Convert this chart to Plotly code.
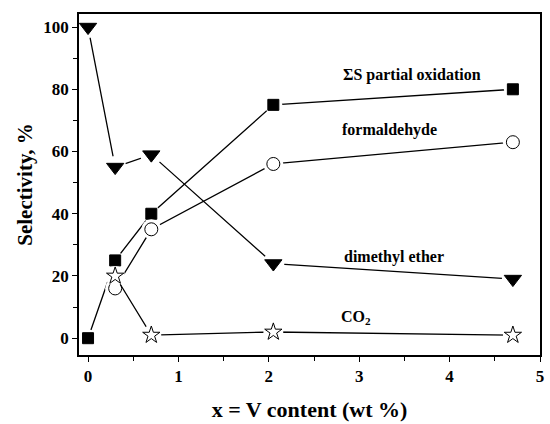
import plotly.graph_objects as go

x_dme = [0.0, 0.3, 0.7, 2.05, 4.7]
y_dme = [100, 55, 59, 24, 19]
x_sum = [0.0, 0.3, 0.7, 2.05, 4.7]
y_sum = [0, 25, 40, 75, 80]
x_form = [0.3, 0.7, 2.05, 4.7]
y_form = [16, 35, 56, 63]
x_co2 = [0.3, 0.7, 2.05, 4.7]
y_co2 = [20, 1, 2, 1]

labels = ["ΣS partial oxidation", "formaldehyde", "dimethyl ether", "CO<sub>2</sub>"]
label_x = [3.58, 3.34, 3.38, 2.96]
label_y = [84.5, 67, 26, 6.5]

FONT = "Liberation Serif"

series = [
    (x_dme, y_dme, "triangle-down", 15, "black"),
    (x_sum, y_sum, "square", 11, "black"),
    (x_form, y_form, "circle", 13, "white"),
    (x_co2, y_co2, "star", 13, "white"),
]

fig = go.Figure()
for xs, ys, sym, size, fill in series:
    fig.add_trace(go.Scatter(x=xs, y=ys, mode="lines",
                             line=dict(color="black", width=1.3),
                             hoverinfo="skip", showlegend=False))
    fig.add_trace(go.Scatter(x=xs, y=ys, mode="markers",
                             marker=dict(symbol="circle", size=size + 7, color="white",
                                         line=dict(width=0)),
                             hoverinfo="skip", showlegend=False))
    fig.add_trace(go.Scatter(x=xs, y=ys, mode="markers",
                             marker=dict(symbol=sym, size=size, color=fill,
                                         line=dict(color="black", width=1)),
                             showlegend=False))

for t, lx, ly in zip(labels, label_x, label_y):
    fig.add_annotation(x=lx, y=ly, text="<b>" + t + "</b>", showarrow=False,
                       font=dict(family=FONT, size=16, color="black"))

axis_common = dict(
    showgrid=False, zeroline=False, showline=True, linecolor="black", linewidth=1.5,
    mirror=True, ticks="outside", ticklen=5, tickwidth=1.2, tickcolor="black",
    tickfont=dict(family=FONT, size=17, color="black"),
)

xt = [0, 1, 2, 3, 4, 5]
yt = [0, 20, 40, 60, 80, 100]

fig.update_xaxes(range=[-0.1, 5.0], tickmode="array", tickvals=xt,
                 ticktext=["<b>%d</b>" % v for v in xt],
                 minor=dict(dtick=0.5, ticks="outside", ticklen=4, tickcolor="black"),
                 title=dict(text="<b>x = V content (wt %)</b>", standoff=16,
                            font=dict(family=FONT, size=22, color="black")),
                 **axis_common)
fig.update_yaxes(range=[-5.4, 104.2], tickmode="array", tickvals=yt,
                 ticktext=["<b>%d</b>" % v for v in yt],
                 minor=dict(dtick=10, ticks="outside", ticklen=4, tickcolor="black"),
                 title=dict(text="<b>Selectivity, %</b>", standoff=5,
                            font=dict(family=FONT, size=21, color="black")),
                 **axis_common)

fig.update_layout(width=550, height=424, margin=dict(l=79, r=6, t=14, b=67),
                  font=dict(family=FONT),
                  plot_bgcolor="white", paper_bgcolor="white")

fig.write_html("out.html")
